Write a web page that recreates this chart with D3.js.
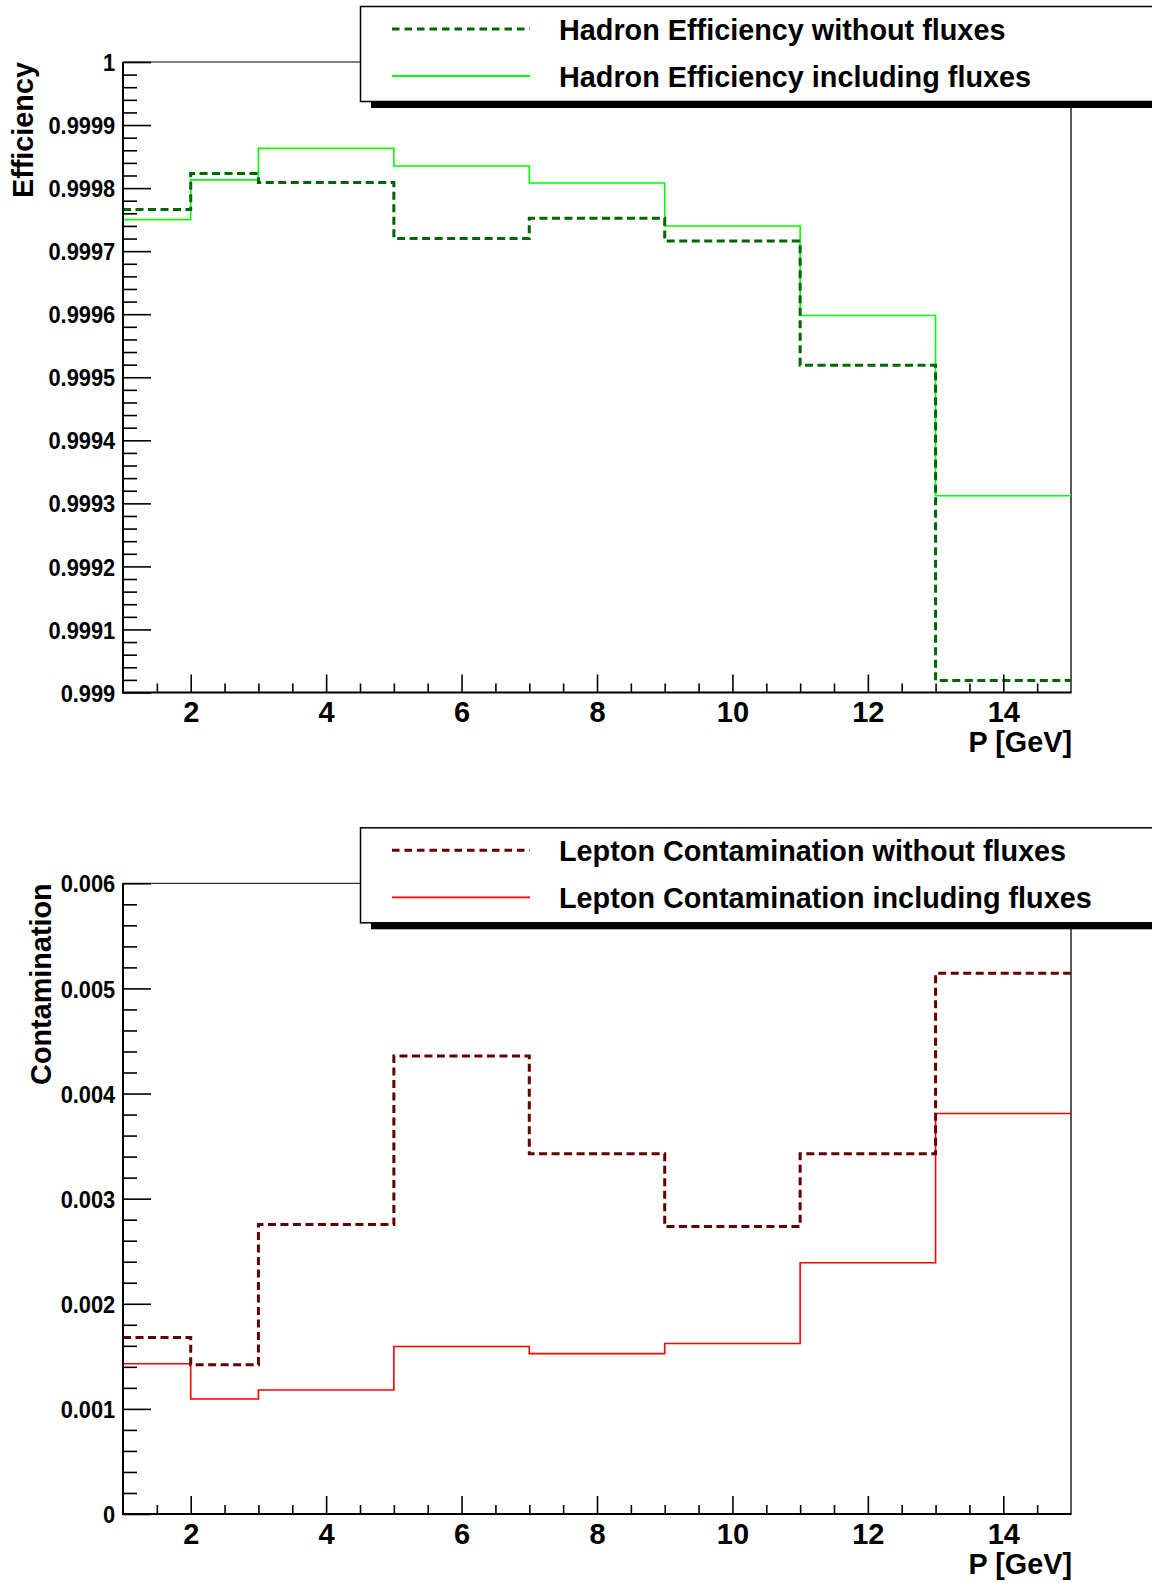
<!DOCTYPE html>
<html lang="en">
<head>
<meta charset="UTF-8">
<title>Hadron efficiency / lepton contamination</title>
<style>
  body { margin: 0; background: #fff; }
  svg { display: block; background: #fff; }
  text { font-family: "Liberation Sans", Arial, Helvetica, sans-serif; font-weight: bold; fill: #000; }
</style>
</head>
<body>
<svg id="chart"></svg>
<script src="https://d3js.org/d3.v7.min.js"></script>
<script>
// bin edges in P [GeV] (variable width bins)
var binEdges = [1, 2, 3, 5, 7, 9, 11, 13, 15];

// hadron efficiency per bin
var hadronNoFlux = [0.999766, 0.999823, 0.999809, 0.999720, 0.999752, 0.999716, 0.999519, 0.999019];
var hadronFlux   = [0.999750, 0.999813, 0.999863, 0.999835, 0.999808, 0.999740, 0.999598, 0.999312];

// lepton contamination per bin
var leptonNoFlux = [0.00168, 0.00142, 0.002754, 0.004357, 0.003426, 0.002735, 0.003426, 0.005144];
var leptonFlux   = [0.00143, 0.001094, 0.00118, 0.001593, 0.001526, 0.001622, 0.00239, 0.00381];

// tick labels
var effTickLabels = ["0.999", "0.9991", "0.9992", "0.9993", "0.9994", "0.9995", "0.9996", "0.9997", "0.9998", "0.9999", "1"];
var contTickLabels = ["0", "0.001", "0.002", "0.003", "0.004", "0.005", "0.006"];
var pTickLabels = ["2", "4", "6", "8", "10", "12", "14"];

var svgWidth = 1152, svgHeight = 1583;
var svg = d3.select('#chart')
    .attr('width', svgWidth)
    .attr('height', svgHeight)

var xScale = d3.scaleLinear()
    .domain([binEdges[0], binEdges[binEdges.length - 1]])
    .range([123, 1071])

var panels = [
    {
        top: 62, bottom: 692.5,
        ticks: effTickLabels,
        yTitle: 'Efficiency', yTitleX: 33,
        series: [
            { values: hadronFlux, name: 'Hadron Efficiency including fluxes', color: '#00ff00', width: 1.6, dash: null },
            { values: hadronNoFlux, name: 'Hadron Efficiency without fluxes', color: '#006600', width: 3, dash: '8,4.5' }
        ]
    },
    {
        top: 883.3, bottom: 1514,
        ticks: contTickLabels,
        yTitle: 'Contamination', yTitleX: 51,
        series: [
            { values: leptonFlux, name: 'Lepton Contamination including fluxes', color: '#ff0000', width: 1.6, dash: null },
            { values: leptonNoFlux, name: 'Lepton Contamination without fluxes', color: '#660000', width: 3, dash: '8,4.5' }
        ]
    }
]

function drawPanel(p) {
    var g = svg.append('g')
    var tickVals = p.ticks.map(Number)
    var lo = tickVals[0], hi = tickVals[tickVals.length - 1]
    var yScale = d3.scaleLinear().domain([lo, hi]).range([p.bottom, p.top])

    // thin frame (top + right)
    g.append('line').attr('x1', xScale.range()[0]).attr('x2', xScale.range()[1])
        .attr('y1', p.top).attr('y2', p.top).attr('stroke', '#000').attr('stroke-width', 1)
    g.append('line').attr('x1', xScale.range()[1]).attr('x2', xScale.range()[1])
        .attr('y1', p.top).attr('y2', p.bottom).attr('stroke', '#000').attr('stroke-width', 1.3)

    // histograms as step lines
    var line = d3.line()
        .x(function (d) { return xScale(d[0]) })
        .y(function (d) { return yScale(d[1]) })
        .curve(d3.curveStepAfter)
    p.series.forEach(function (s) {
        var pts = s.values.map(function (v, i) { return [binEdges[i], v] })
        pts.push([binEdges[binEdges.length - 1], s.values[s.values.length - 1]])
        g.append('path')
            .datum(pts)
            .attr('d', line)
            .attr('fill', 'none')
            .attr('stroke', s.color)
            .attr('stroke-width', s.width)
            .attr('stroke-dasharray', s.dash)
    })

    // y axis: major + minor ticks pointing inside
    var nMinor = (tickVals.length - 1) * 5
    var yMinor = d3.range(nMinor + 1)
        .filter(function (i) { return i % 5 !== 0 })
        .map(function (i) { return lo + (hi - lo) * i / nMinor })
    var yAxisMinor = d3.axisLeft(yScale).tickValues(yMinor).tickSize(-14).tickSizeOuter(0).tickFormat('')
    var yAxis = d3.axisLeft(yScale).tickValues(tickVals).tickSize(-28).tickSizeOuter(0).tickPadding(8.5)
        .tickFormat(function (d, i) { return p.ticks[i] })
    var gy1 = g.append('g').attr('transform', 'translate(' + xScale.range()[0] + ',0)').call(yAxisMinor)
    var gy2 = g.append('g').attr('transform', 'translate(' + xScale.range()[0] + ',0)').call(yAxis)
    gy2.selectAll('text').attr('font-size', 24).attr('dy', '0.36em').attr('transform', 'scale(0.91,1)')
    ;[gy1, gy2].forEach(function (a) {
        a.select('.domain').remove()
        a.attr('font-family', null).attr('font-size', null)
        a.selectAll('line').attr('stroke-width', 1.6)
    })

    // x axis
    var xMinor = d3.range(3, 30).map(function (i) { return i / 2 })
        .filter(function (v) { return v % 2 !== 0 })
    var xAxisMinor = d3.axisBottom(xScale).tickValues(xMinor).tickSize(-9).tickSizeOuter(0).tickFormat('')
    var xAxis = d3.axisBottom(xScale).tickValues(pTickLabels.map(Number)).tickSize(-18).tickSizeOuter(0).tickPadding(9)
        .tickFormat(function (d, i) { return pTickLabels[i] })
    var gx1 = g.append('g').attr('transform', 'translate(0,' + p.bottom + ')').call(xAxisMinor)
    var gx2 = g.append('g').attr('transform', 'translate(0,' + p.bottom + ')').call(xAxis)
    gx2.selectAll('text').attr('font-size', 29)
    ;[gx1, gx2].forEach(function (a) {
        a.select('.domain').remove()
        a.attr('font-family', null).attr('font-size', null)
        a.selectAll('line').attr('stroke-width', 1.6)
    })

    // thick axis lines
    g.append('line').attr('x1', xScale.range()[0]).attr('x2', xScale.range()[0])
        .attr('y1', p.top).attr('y2', p.bottom + 1).attr('stroke', '#000').attr('stroke-width', 2)
    g.append('line').attr('x1', xScale.range()[0] - 1).attr('x2', xScale.range()[1] + 0.5)
        .attr('y1', p.bottom).attr('y2', p.bottom).attr('stroke', '#000').attr('stroke-width', 2)

    // axis titles
    g.append('text')
        .attr('transform', 'translate(' + p.yTitleX + ',' + p.top + ') rotate(-90)')
        .attr('text-anchor', 'end')
        .attr('font-size', 28.8)
        .text(p.yTitle)
    g.append('text')
        .attr('x', xScale.range()[1] + 1)
        .attr('y', p.bottom + 59.5)
        .attr('text-anchor', 'end')
        .attr('font-size', 28.8)
        .text('P [GeV]')

    // legend box with shadow
    var lx = 360.5, ly = p.top - 55.5, lh = 95
    var leg = svg.append('g')
    leg.append('rect').attr('x', lx + 10.5).attr('y', ly + 6.5).attr('width', 900).attr('height', lh).attr('fill', '#000')
    leg.append('rect').attr('x', lx).attr('y', ly).attr('width', 900).attr('height', lh)
        .attr('fill', '#fff').attr('stroke', '#000').attr('stroke-width', 1.5)
    var entries = [p.series[1], p.series[0]]
    entries.forEach(function (s, i) {
        var cy = ly + 22.5 + i * 47
        leg.append('line')
            .attr('x1', 392).attr('x2', 530)
            .attr('y1', cy).attr('y2', cy)
            .attr('stroke', s.color)
            .attr('stroke-width', s.dash ? 3 : 1.8)
            .attr('stroke-dasharray', s.dash ? '7.5,5' : null)
        leg.append('text')
            .attr('x', 559)
            .attr('y', cy + 10.5)
            .attr('font-size', 28.8)
            .text(s.name)
    })
}

panels.forEach(drawPanel)
</script>
</body>
</html>
